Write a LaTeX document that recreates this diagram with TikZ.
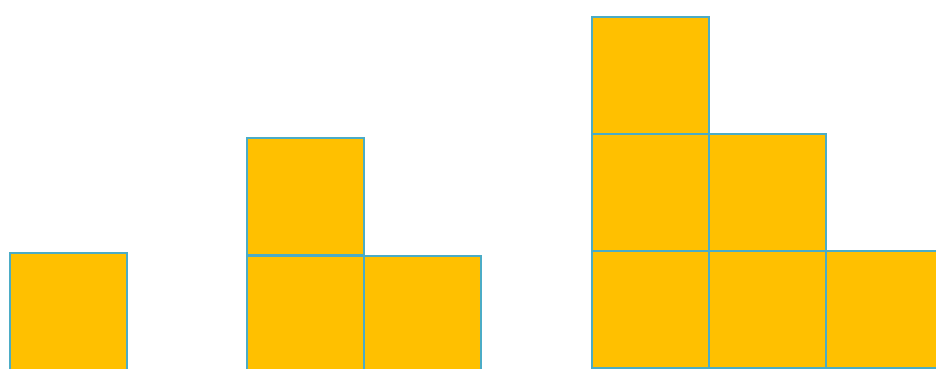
\documentclass[tikz,border=0pt]{standalone}
\definecolor{sqfill}{HTML}{FFC000}
\definecolor{sqline}{HTML}{4BACC6}
\begin{document}
\begin{tikzpicture}[x=1pt,y=-1pt,
  sq/.style={draw=sqline, fill=sqfill, line width=2pt, anchor=north west,
    minimum width=117pt, minimum height=117pt, inner sep=0pt, outer sep=0pt}]
\useasboundingbox (0,0) rectangle (936,368);
\clip (0,0) rectangle (936,368);
% group 1
\node[sq] (a1) at (9.5,253) {};
% group 2
\node[sq] (b1) at (246.5,138) {};
\node[sq] (b2) at (246.5,255.5) {};
\node[sq] (b3) at (363.5,255.5) {};
% group 3
\node[sq] (c1) at (592,17) {};
\node[sq] (c2) at (592,134) {};
\node[sq] (c3) at (709,134) {};
\node[sq] (c4) at (592,251) {};
\node[sq] (c5) at (709,251) {};
\node[sq] (c6) at (826,251) {};
\end{tikzpicture}
\end{document}
